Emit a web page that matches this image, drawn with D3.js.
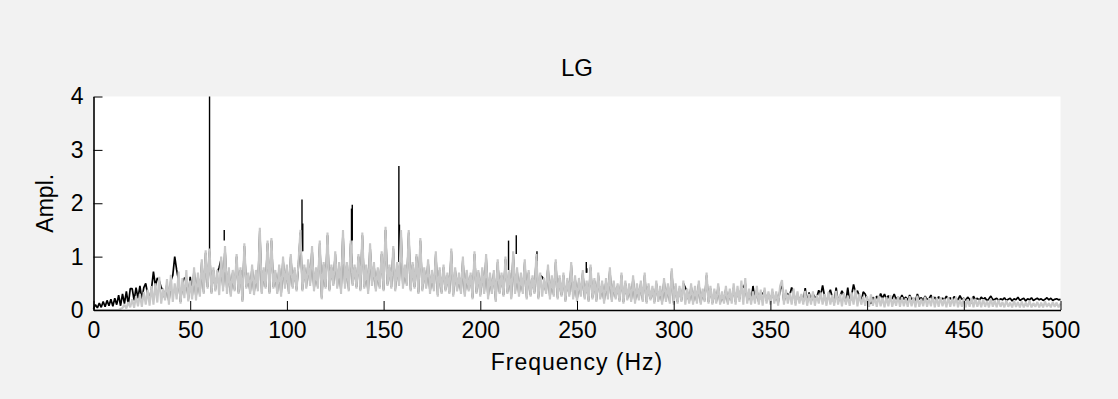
<!DOCTYPE html>
<html>
<head>
<meta charset="utf-8">
<script src="https://cdn.jsdelivr.net/npm/d3@7"></script>
<style>
  html, body { margin: 0; padding: 0; background: #f2f2f2; }
  svg { display: block; }
  .axis text { font-family: "Liberation Sans", Arial, sans-serif; font-size: 23px; fill: #000; }
  .axis path, .axis line { stroke: #000; }
</style>
</head>
<body>
<svg id="chart" width="1118" height="399"></svg>
<script>
"use strict";

// amplitude spectra, one value per 1 Hz bin (0..500 Hz)
const grayAmp = [
  0,0,0,0,0,0,0,0,0,0,
  0,0,0,0,.02,.04,.1,.03,.15,.05,
  .2,.04,.26,.07,.3,.06,.34,.1,.38,.08,
  .45,.1,.5,.14,.62,.12,.4,.18,.58,.1,
  .66,.15,.5,.2,.72,.12,.6,.22,.75,.16,
  .55,.2,.8,.18,.7,.25,.95,.3,1.12,.4,
  1.15,.3,.8,.35,.75,.28,1.0,.35,1.2,.3,
  .8,.25,.75,.35,1.05,.3,.8,.15,1.25,.4,
  .7,.3,.85,.28,.75,.35,1.54,.3,.8,.4,
  1.3,.3,1.35,.4,.75,.3,.85,.25,1.0,.4,
  .85,.3,1.05,.4,.8,.35,.9,1.5,.35,.85,
  .4,.95,.45,1.2,.35,.8,.4,1.3,.2,.9,
  .4,1.45,.35,.85,.45,1.1,.4,.9,.3,1.5,
  .4,.9,.35,1.3,.45,.85,.4,1.05,.35,1.45,
  .4,.85,.3,1.25,.45,.9,.35,.8,.4,1.1,
  .35,1.56,.45,.85,.4,1.2,.35,.9,.45,1.5,
  .4,.85,.45,1.5,.35,.9,.4,1.05,.3,1.35,
  .35,.8,.4,.95,.3,.75,.35,1.1,.25,.8,
  .3,.85,.35,.7,.3,1.15,.25,.8,.35,.7,
  .3,1.0,.25,.75,.35,.7,.2,1.1,.3,.75,
  .25,.8,.3,1.05,.2,.7,.3,.75,.15,.95,
  .3,.7,.25,1.0,.3,.75,.2,1.1,.3,.8,
  .25,.7,.3,.95,.2,.75,.25,.65,.3,1.05,
  .2,.7,.25,.6,.3,.85,.2,.65,.25,.95,
  .2,.65,.25,.7,.15,.6,.25,.9,.2,.65,
  .15,.6,.25,.75,.2,.55,.15,.85,.2,.6,
  .15,.7,.2,.55,.12,.6,.2,.8,.15,.55,
  .2,.5,.15,.7,.12,.55,.18,.5,.15,.65,
  .12,.5,.18,.55,.15,.7,.12,.5,.18,.45,
  .12,.55,.15,.45,.1,.6,.15,.5,.12,.78,
  .1,.5,.12,.45,.15,.55,.1,.4,.12,.5,
  .1,.45,.12,.55,.1,.4,.15,.7,.12,.45,
  .1,.4,.12,.5,.1,.35,.12,.45,.1,.4,
  .12,.5,.1,.45,.15,.55,.1,.6,.12,.4,
  .1,.35,.12,.45,.1,.38,.08,.42,.12,.35,
  .1,.4,.12,.35,.08,.45,.56,.1,.38,.12,
  .32,.1,.4,.08,.35,.12,.3,.1,.36,.08,
  .3,.1,.35,.08,.28,.12,.33,.1,.3,.08,
  .34,.1,.28,.08,.36,.1,.3,.07,.32,.1,
  .27,.08,.33,.1,.38,.07,.3,.1,.25,.08,
  .26,.06,.29,.08,.24,.06,.27,.07,.23,.05,
  .24,.07,.28,.06,.22,.08,.26,.06,.24,.07,
  .22,.06,.26,.07,.24,.05,.27,.06,.21,.07,
  .25,.06,.22,.07,.26,.05,.23,.06,.24,.07,
  .21,.05,.24,.06,.22,.07,.25,.05,.2,.06,
  .22,.05,.2,.06,.23,.05,.21,.06,.19,.05,
  .2,.06,.17,.05,.21,.06,.18,.05,.19,.06,
  .15,.05,.18,.06,.14,.05,.17,.06,.15,.05,
  .16,.05,.14,.06,.17,.05,.13,.06,.15,.05,
  .14,.05,.16,.06,.13,.05,.15,.06,.14,.05,
  .12
];

const blackAmp = [
  .02,.1,.04,.13,.05,.16,.06,.18,.08,.2,
  .07,.22,.1,.28,.08,.3,.12,.35,.1,.4,
  .4,.18,.42,.22,.45,.2,.42,.5,.3,.22,
  .4,.72,.45,.6,.55,.42,.38,.2,.5,.15,
  .55,.65,1.0,.75,.55,.15,.5,.6,.6,.2,
  .62,.25,.75,.23,.65,.28,.9,.33,1.07,.43,
  1.1,.33,.75,.38,.7,.8,.95,.38,1.15,.36,
  .75,.28,.7,.38,1.0,.33,.75,.18,1.2,.43,
  .65,.33,.8,.31,.7,.38,1.49,.33,.75,.43,
  1.25,.33,1.3,.43,.7,.33,.8,.28,.95,.43,
  .8,.33,1.0,.43,.75,.38,.85,1.45,.38,.8,
  .43,.9,.48,1.15,.38,.75,.43,1.25,.23,.85,
  .43,1.4,.38,.8,.48,1.05,.43,.85,.33,1.45,
  .43,.85,.38,1.25,.48,.8,.43,1.0,.38,1.4,
  .43,.8,.33,1.2,.48,.85,.38,.75,.43,1.05,
  .38,1.5,.48,.8,.43,1.15,.38,.85,.48,1.45,
  .43,.8,.48,1.45,.38,.85,.43,1.0,.33,1.3,
  .38,.75,.43,.9,.33,.7,.38,1.05,.28,.75,
  .33,.8,.38,.65,.33,1.1,.28,.75,.38,.65,
  .33,.95,.28,.7,.38,.65,.23,1.05,.33,.7,
  .28,.75,.33,1.0,.23,.65,.33,.7,.18,.9,
  .33,.65,.28,.95,.33,.7,.23,1.05,.33,.75,
  .28,.65,.33,.9,.23,.7,.28,.6,.33,1.0,
  .23,.65,.62,.55,.33,.8,.23,.6,.28,.9,
  .23,.6,.28,.65,.18,.55,.28,.85,.23,.6,
  .18,.55,.28,.7,.23,.5,.18,.8,.23,.55,
  .18,.65,.23,.5,.15,.55,.23,.75,.18,.5,
  .23,.45,.18,.65,.15,.5,.21,.45,.18,.6,
  .15,.45,.21,.5,.18,.65,.15,.45,.21,.4,
  .15,.5,.18,.4,.13,.55,.18,.45,.15,.73,
  .13,.45,.15,.4,.18,.5,.42,.35,.15,.45,
  .13,.4,.15,.5,.13,.35,.18,.65,.15,.4,
  .13,.35,.15,.45,.13,.3,.15,.4,.13,.35,
  .17,.42,.15,.38,.2,.45,.42,.5,.17,.35,
  .15,.45,.17,.38,.15,.32,.3,.36,.17,.3,
  .15,.34,.17,.3,.13,.38,.47,.15,.32,.3,
  .28,.42,.34,.13,.3,.17,.27,.15,.41,.13,
  .33,.15,.3,.24,.24,.37,.28,.46,.26,.13,
  .29,.38,.24,.13,.42,.15,.26,.36,.28,.15,
  .42,.13,.28,.48,.33,.36,.26,.15,.34,.3,
  .2,.15,.12,.24,.18,.26,.2,.31,.22,.3,
  .2,.27,.18,.22,.3,.2,.25,.19,.28,.2,
  .24,.18,.28,.2,.22,.17,.3,.2,.23,.18,
  .26,.2,.21,.28,.19,.24,.18,.25,.2,.22,
  .19,.26,.2,.23,.18,.25,.21,.19,.27,.2,
  .22,.18,.24,.2,.13,.26,.19,.22,.18,.24,
  .2,.23,.17,.21,.26,.19,.2,.22,.18,.21,
  .19,.23,.18,.2,.22,.17,.21,.19,.24,.18,
  .2,.22,.17,.21,.19,.23,.18,.2,.22,.19,
  .21,.18,.2,.23,.19,.22,.18,.2,.21,.19,
  .2
];

// narrow peaks of the black spectrum (Hz, from, to)
const spikeHz   = [60.0, 67.6, 107.8, 108.2, 133.4, 133.8, 157.9, 158.2, 214.6, 218.6, 229.3, 254.8, 255.1];
const spikeFrom = [1.1,  1.3,  1.1,   1.1,   0.88,  1.3,   0.9,   0.9,   0.75,  1.05,  0.92,  0.7,   0.7];
const spikeTo   = [4.0,  1.5,  2.07,  1.62,  1.9,   1.97,  2.7,   1.6,   1.3,   1.4,   1.1,   0.9,   0.78];

const xTicks = [0, 50, 100, 150, 200, 250, 300, 350, 400, 450, 500];
const yTicks = [0, 1, 2, 3, 4];
const binHz = 1;

const svg = d3.select("#chart");

// axes box (MATLAB-like, box off)
const x = d3.scaleLinear().domain([0, 500]).range([93.5, 1060.5]);
const y = d3.scaleLinear().domain([0, 4]).range([310, 96.5]);

svg.append("rect")
    .attr("x", x(0)).attr("y", y(4))
    .attr("width", x(500) - x(0)).attr("height", y(0) - y(4))
    .attr("fill", "#fff");

const plot = svg.append("g");

const line = d3.line()
    .x((d, i) => x(i * binHz))
    .y((d) => y(d));

// black spectrum first, gray drawn over it
plot.append("path")
    .datum(blackAmp)
    .attr("d", line)
    .attr("fill", "none")
    .attr("stroke", "#000")
    .attr("stroke-width", 1.7)
    .attr("stroke-linejoin", "bevel");

plot.selectAll(".spike")
    .data(spikeHz)
  .enter().append("line")
    .attr("class", "spike")
    .attr("x1", (d) => x(d))
    .attr("x2", (d) => x(d))
    .attr("y1", (d, i) => y(spikeFrom[i]))
    .attr("y2", (d, i) => y(spikeTo[i]))
    .attr("stroke", "#000")
    .attr("stroke-width", 1.4);

plot.append("path")
    .datum(grayAmp)
    .attr("d", line)
    .attr("fill", "none")
    .attr("stroke", "#c8c8c8")
    .attr("stroke-width", 2.1)
    .attr("stroke-linejoin", "bevel");

// x-axis, ticks pointing inward
svg.append("g")
    .attr("class", "axis")
    .attr("transform", "translate(0," + y(0) + ")")
    .call(d3.axisBottom(x).tickValues(xTicks).tickFormat(d3.format("d"))
      .tickSizeInner(-9).tickSizeOuter(0).tickPadding(12))
    .call((g) => g.select(".domain").attr("stroke-width", 1.6));

// y-axis
svg.append("g")
    .attr("class", "axis")
    .attr("transform", "translate(" + x(0) + ",0)")
    .call(d3.axisLeft(y).tickValues(yTicks).tickFormat(d3.format("d"))
      .tickSizeInner(-9).tickSizeOuter(0).tickPadding(10))
    .call((g) => g.select(".domain").attr("stroke-width", 1.6));

// labels
svg.append("text")
    .attr("x", (x(0) + x(500)) / 2).attr("y", 76)
    .attr("text-anchor", "middle")
    .style("font", "24px 'Liberation Sans', Arial, sans-serif")
    .text("LG");

svg.append("text")
    .attr("x", (x(0) + x(500)) / 2).attr("y", 370)
    .attr("text-anchor", "middle")
    .style("font", "23px 'Liberation Sans', Arial, sans-serif")
    .style("letter-spacing", "1px")
    .text("Frequency (Hz)");

svg.append("text")
    .attr("transform", "translate(53," + ((y(0) + y(4)) / 2) + ") rotate(-90)")
    .attr("text-anchor", "middle")
    .style("font", "23px 'Liberation Sans', Arial, sans-serif")
    .text("Ampl.");
</script>
</body>
</html>
